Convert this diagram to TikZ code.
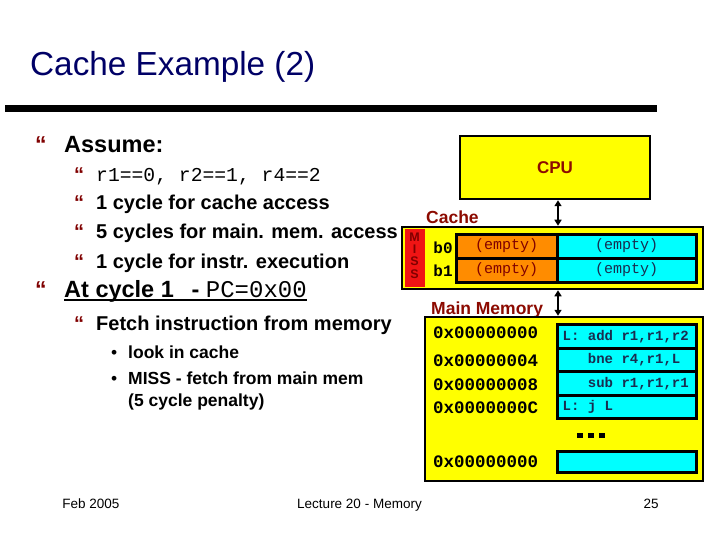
\documentclass[tikz,border=0pt]{standalone}
\usepackage{fontspec}
\setmainfont{Liberation Sans}
\setmonofont{Liberation Mono}
\usepackage{tikz}
\usetikzlibrary{arrows.meta}

\definecolor{titleblue}{RGB}{0,0,102}
\definecolor{bulred}{RGB}{128,0,0}
\definecolor{lblred}{RGB}{140,10,0}
\definecolor{stripred}{RGB}{240,20,20}
\definecolor{cellorange}{RGB}{255,140,0}
\definecolor{cellcyan}{RGB}{0,255,255}
\definecolor{boxyellow}{RGB}{255,255,0}
\definecolor{instrblue}{RGB}{25,45,80}

\newcommand{\fsz}[1]{\fontsize{#1}{#1}\selectfont}

\begin{document}
\begin{tikzpicture}[x=1pt,y=-1pt,
    txt/.style={anchor=base west, inner sep=0pt},
    bul/.style={txt, text=bulred, font=\bfseries\fsz{#1}},
    box/.style={draw, line width=2.5pt, fill=boxyellow, inner sep=0pt},
    cell/.style={draw, line width=3pt, inner sep=0pt, minimum height=24pt},
    lbl/.style={txt, text=lblred, font=\bfseries\fsz{17.5}},
    addr/.style={anchor=west, inner sep=0pt, font=\ttfamily\bfseries\fsz{17.5}},
    instr/.style={anchor=west, inner sep=0pt, text=instrblue, font=\ttfamily\bfseries\fsz{14}},
    foot/.style={anchor=base, inner sep=0pt, font=\fsz{13.5}},
    bus/.style={{Triangle[length=6pt,width=7pt]}-{Triangle[length=6pt,width=7pt]}, line width=2.5pt}]

    \useasboundingbox (0,0) rectangle (720,540);
    \fill[white] (0,0) rectangle (720,540);

    % Title and bar
    \node[txt, text=titleblue, font=\fsz{33.3}] (title) at (30,76) {Cache Example (2)};
    \fill (5,105) rectangle (657,112);

    % Assumptions
    \node[bul=23] (bA) at (35,153) {“};
    \node[txt, font=\bfseries\fsz{23.5}] (assume) at (64,153) {Assume:};
    \node[bul=20] (b1) at (74,182) {“};
    \node[txt, font=\ttfamily\fsz{19.7}] (regs) at (96,182) {r1==0, r2==1, r4==2};
    \node[bul=20] (b2) at (74,210) {“};
    \node[txt, font=\bfseries\fsz{20}] (cach) at (96,210) {1 cycle for cache access};
    \node[bul=20] (b3) at (74,239) {“};
    \node[txt, font=\bfseries\fsz{20}] (mema) at (96,239) {5 cycles for main. mem. access};
    \node[bul=20] (b4) at (74,268) {“};
    \node[txt, font=\bfseries\fsz{20}] (exec) at (96,268) {1 cycle for instr. execution};

    % At cycle 1
    \node[bul=23] (bC) at (35,297) {“};
    \node[txt, font=\bfseries\fsz{23.5}] (cyc) at (64,297) {At cycle 1\hspace{0.75em}- {\mdseries\ttfamily\fsz{24}PC=0x00}};
    \draw[line width=2pt] ([yshift=-3pt]cyc.base west) -- ([yshift=-3pt]cyc.base east);
    \node[bul=20] (b5) at (74,330) {“};
    \node[txt, font=\bfseries\fsz{20}] (fetch) at (96,330) {Fetch instruction from memory};
    \node[txt, font=\fsz{17.5}] (d1) at (111,358) {•};
    \node[txt, font=\bfseries\fsz{17.5}] (look) at (128,358) {look in cache};
    \node[txt, font=\fsz{17.5}] (d2) at (111,384) {•};
    \node[txt, font=\bfseries\fsz{17.5}] (miss) at (128,384) {MISS - fetch from main mem};
    \node[txt, font=\bfseries\fsz{17.5}] (pen) at (128,406) {(5 cycle penalty)};

    % CPU
    \node[box, minimum width=190pt, minimum height=63pt, text=lblred, font=\bfseries\fsz{17}] (cpu) at (555,167.5) {CPU};

    % Cache
    \node[lbl] (cachelbl) at (426,223) {Cache};
    \node[box, minimum width=301pt, minimum height=62pt] (cache) at (552.5,258) {};
    \node[fill=stripred, minimum width=20pt, minimum height=57pt, inner sep=0pt] (strip) at (414.5,258) {};
    \foreach \ch/\yy [count=\k] in {M/237,I/249.3,S/261.6,S/274}
        \node[inner sep=0pt, text=bulred, font=\bfseries\fsz{12.5}] (miss\k) at (414.5,\yy) {\ch};
    \node[anchor=center, inner sep=0pt, font=\ttfamily\bfseries\fsz{16}] (b0) at (443,248) {b0};
    \node[anchor=center, inner sep=0pt, font=\ttfamily\bfseries\fsz{16}] (b1l) at (443,271) {b1};
    \node[cell, fill=cellorange, minimum width=101pt, text=bulred, font=\ttfamily\fsz{15}] (t0) at (506.5,246) {(empty)};
    \node[cell, fill=cellorange, minimum width=101pt, text=bulred, font=\ttfamily\fsz{15}] (t1) at (506.5,270) {(empty)};
    \node[cell, fill=cellcyan, minimum width=139pt, text=instrblue, font=\ttfamily\fsz{15}] (d0) at (626.5,246) {(empty)};
    \node[cell, fill=cellcyan, minimum width=139pt, text=instrblue, font=\ttfamily\fsz{15}] (d1c) at (626.5,270) {(empty)};

    % Main memory
    \node[lbl] (memlbl) at (431,314) {Main Memory};
    \node[box, minimum width=278pt, minimum height=164pt] (mem) at (564,399) {};
    \node[addr] (a0) at (433,333) {0x00000000};
    \node[addr] (a1) at (433,361) {0x00000004};
    \node[addr] (a2) at (433,385) {0x00000008};
    \node[addr] (a3) at (433,408) {0x0000000C};
    \node[addr] (a4) at (433,462) {0x00000000};
    \node[cell, fill=cellcyan, minimum width=139pt, minimum height=23.5pt] (m0) at (626.5,336.5) {};
    \node[cell, fill=cellcyan, minimum width=139pt, minimum height=23.5pt] (m1) at (626.5,360) {};
    \node[cell, fill=cellcyan, minimum width=139pt, minimum height=23.5pt] (m2) at (626.5,383.5) {};
    \node[cell, fill=cellcyan, minimum width=139pt, minimum height=23.5pt] (m3) at (626.5,407) {};
    \node[cell, fill=cellcyan, minimum width=139pt, minimum height=21pt] (m4) at (626.5,462) {};
    \node[instr] (i0) at ([xshift=7pt]m0.west) {L: add r1,r1,r2};
    \node[instr] (i1) at ([xshift=7pt]m1.west) {\phantom{L: }bne r4,r1,L};
    \node[instr] (i2) at ([xshift=7pt]m2.west) {\phantom{L: }sub r1,r1,r1};
    \node[instr] (i3) at ([xshift=7pt]m3.west) {L: j L};
    \foreach \dx in {577,588,599}
        \fill (\dx,432.5) rectangle ++(6,5.5);

    % Buses
    \coordinate (busx) at (558,0);
    \draw[bus] (cpu.south -| busx) -- (cache.north -| busx);
    \draw[bus] (cache.south -| busx) -- (mem.north -| busx);

    % Footer
    \node[foot] (date) at (91,508) {Feb 2005};
    \node[foot] (lect) at (359.5,508) {Lecture 20 - Memory};
    \node[foot] (pg) at (651,508) {25};
\end{tikzpicture}
\end{document}
